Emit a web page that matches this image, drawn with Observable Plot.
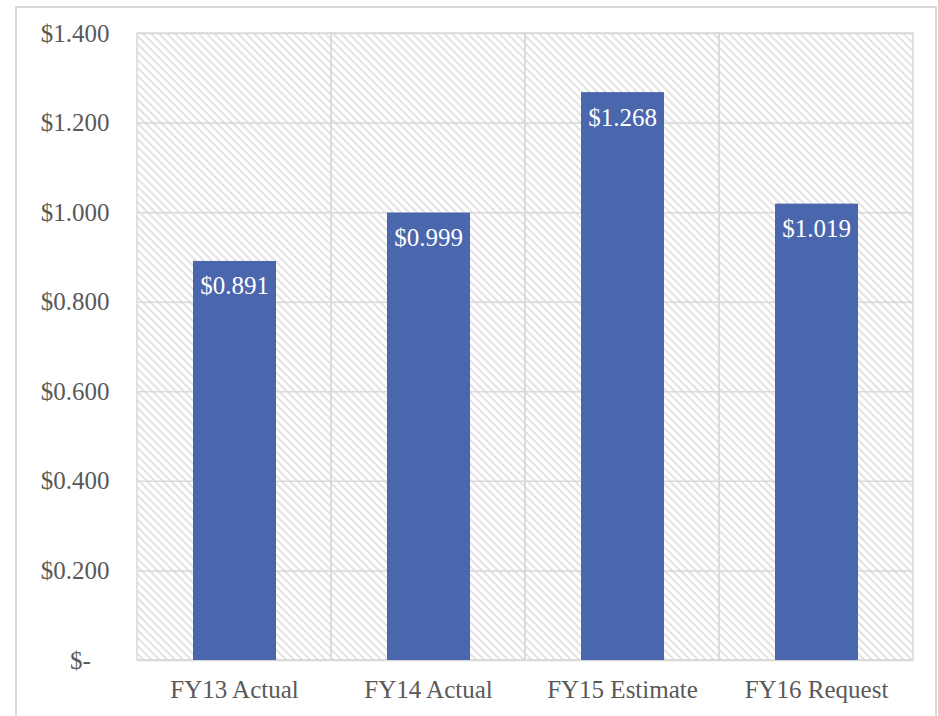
<!DOCTYPE html>
<html>
<head>
<meta charset="utf-8">
<script src="https://cdn.jsdelivr.net/npm/d3@7"></script>
<script src="https://cdn.jsdelivr.net/npm/@observablehq/plot@0.6"></script>
<style>
  html, body { margin: 0; padding: 0; background: #fff; }
  #chart { position: relative; width: 938px; height: 716px; }
  #chart svg { display: block; }
</style>
</head>
<body>
<div id="chart"></div>
<script>
const categories = ["FY13 Actual", "FY14 Actual", "FY15 Estimate", "FY16 Request"];
const values = [0.891, 0.999, 1.268, 1.019];
const yTicks = [0, 0.2, 0.4, 0.6, 0.8, 1.0, 1.2, 1.4];
const yMax = 1.4;

const data = categories.map((c, i) => ({category: c, value: values[i]}));
const fmt = v => v === 0 ? "$-\u2007\u2008" : "$" + v.toFixed(3);

const axisColor = "#595959";
const gridColor = "#d9d9d9";
const barColor = "#4a66ac";
const font = "'Liberation Serif', 'DejaVu Serif', serif";

const plot = Plot.plot({
  width: 938,
  height: 716,
  marginLeft: 137,
  marginRight: 25,
  marginTop: 33,
  marginBottom: 56,
  style: {fontFamily: font, fontSize: "25px", color: axisColor, background: "transparent", overflow: "visible"},
  x: {domain: categories, padding: 0, label: null, tickSize: 0, tickPadding: 20},
  y: {domain: [0, yMax], ticks: yTicks, tickFormat: fmt, label: null, tickSize: 0, tickPadding: 28},
  marks: [
    // hatched plot background
    Plot.barY(categories, {x: d => d, y1: 0, y2: yMax, fill: "url(#hatch)", stroke: "none"}),
    // horizontal gridlines
    Plot.ruleY(yTicks, {stroke: gridColor, strokeWidth: 1.5}),
    // vertical category boundaries + frame
    Plot.barY(categories, {x: d => d, y1: 0, y2: yMax, fill: "none", stroke: gridColor, strokeWidth: 1.5}),
    // bars
    Plot.barY(data, {x: "category", y: "value", fill: barColor, insetLeft: 56, insetRight: 55}),
    // labels
    Plot.text(data, {x: "category", y: "value", text: d => "$" + d.value.toFixed(3), fill: "#ffffff", dy: 25, fontSize: 25}),
    Plot.axisX({tickSize: 0, tickPadding: 20, fill: axisColor}),
    Plot.axisY({ticks: yTicks, tickFormat: fmt, tickSize: 0, tickPadding: 28, fill: axisColor})
  ]
});

const svgNS = "http://www.w3.org/2000/svg";
const defs = document.createElementNS(svgNS, "defs");
defs.innerHTML = `<pattern id="hatch" patternUnits="userSpaceOnUse" width="5.6" height="5.6" patternTransform="rotate(45)">
  <rect width="5.6" height="5.6" fill="#ffffff"/>
  <line x1="0" y1="1" x2="5.6" y2="1" stroke="#e2e2e2" stroke-width="2"/>
</pattern>`;
plot.insertBefore(defs, plot.firstChild);

// outer chart border
const border = document.createElementNS(svgNS, "rect");
border.setAttribute("x", 16);
border.setAttribute("y", 7);
border.setAttribute("width", 920);
border.setAttribute("height", 730);
border.setAttribute("fill", "none");
border.setAttribute("stroke", "#d9d9d9");
border.setAttribute("stroke-width", 2);
plot.appendChild(border);

document.getElementById("chart").appendChild(plot);
</script>
</body>
</html>
